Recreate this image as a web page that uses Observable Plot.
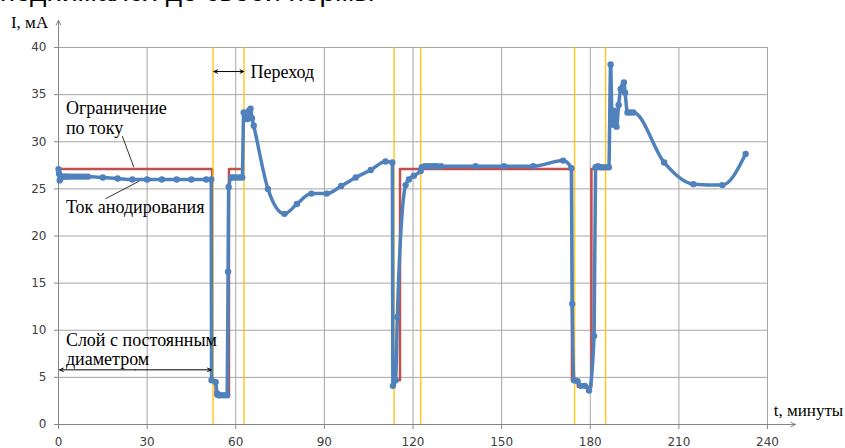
<!DOCTYPE html>
<html><head><meta charset="utf-8">
<script src="https://cdn.jsdelivr.net/npm/d3@7"></script>
<script src="https://cdn.jsdelivr.net/npm/@observablehq/plot@0.6"></script>
<style>
body{margin:0;background:#fff;}
#title{height:14px;overflow:hidden;position:relative;width:845px;}
#title span{position:absolute;left:0px;top:-22px;font-family:"Liberation Sans",Arial,sans-serif;font-size:28px;line-height:28px;white-space:nowrap;color:#000;}
</style></head><body>
<div id="title"><span>поднимался до своей нормы</span></div>
<div id="chart"></div>
<script>
const xTicks = [0, 30, 60, 90, 120, 150, 180, 210, 240];
const yTicks = [0, 5, 10, 15, 20, 25, 30, 35, 40];

// Ток анодирования (blue)
const blueT = [0, 0.2, 0.4, 0.7, 1, 1.5, 2, 2.5, 3, 3.5, 4, 5, 6, 7, 8, 9, 10, 15, 20, 25, 30, 35, 40, 45, 50, 51.7,
  51.8, 53.2, 53.7, 54.2, 54.9, 56, 57.1, 57.4, 57.6, 58.5, 59.3, 60.2, 61.2, 62.2,
  62.7, 63.3, 63.9, 64.5, 65.0, 65.5, 66.1, 70.9, 76.5, 80.7, 85.6, 90.8, 95.7, 100.6, 105.7, 110.7, 113.0,
  113.2, 114.1, 114.7, 117.5, 118.6, 120.3, 122.6, 123.0, 124, 125, 126, 127, 128, 129.5, 141.2, 150.8, 160.7,
  170.8, 173.6, 173.9, 174.5, 175.7, 176.8, 178.2, 179.6, 181.3, 181.8, 182.6, 183.8, 185.0, 186.3,
  186.9, 187.3, 187.6, 188.0, 188.5, 188.9, 189.6, 190.3, 191.4, 191.8, 192.6, 193.6, 194.6, 205.0, 214.9, 224.7, 232.6];
const blueI = [27.1, 26.6, 25.9, 26.1, 26.3, 26.3, 26.3, 26.3, 26.3, 26.3, 26.3, 26.3, 26.3, 26.3, 26.3, 26.3, 26.3, 26.2, 26.1, 26.0, 26.0, 26.0, 26.0, 26.0, 26.0, 26.0,
  4.7, 4.5, 3.3, 3.1, 3.1, 3.1, 3.1, 16.2, 25.2, 26.2, 26.2, 26.2, 26.2, 26.2,
  33.1, 32.6, 32.4, 33.3, 33.5, 32.5, 31.7, 25.0, 22.35, 23.4, 24.5, 24.5, 25.3, 26.2, 27.0, 27.9, 27.8,
  4.1, 4.7, 11.4, 25.4, 26.0, 26.4, 26.9, 27.3, 27.4, 27.4, 27.4, 27.4, 27.4, 27.4, 27.4, 27.4, 27.4,
  28.0, 27.2, 12.8, 4.7, 4.6, 4.1, 4.1, 3.6, 9.4, 27.3, 27.4, 27.3, 27.3, 27.3,
  38.2, 33.0, 31.8, 33.3, 32.2, 31.6, 33.9, 35.6, 36.3, 35.2, 33.1, 33.1, 33.1, 27.8, 25.5, 25.4, 28.7];

// Ограничение по току (red)
const redT = [0, 52.0, 52.0, 53.2, 53.2, 57.7, 57.7, 61.4,
  113.1, 115.6, 115.6, 173.8, 173.8, 175.8, 175.8, 180.4, 180.4, 185.8];
const redI = [27.1, 27.1, 4.7, 4.7, 3.0, 3.0, 27.1, 27.1,
  4.7, 4.7, 27.1, 27.1, 4.7, 4.7, 4.0, 4.0, 27.1, 27.1];
const redSeg = [1, 1, 1, 1, 1, 1, 1, 1, 2, 2, 2, 2, 2, 2, 2, 2, 2, 2];

// Переход boundaries (yellow)
const yellowT = [52.3, 62.8, 113.6, 122.6, 174.7, 185.2];

// annotations
const noteText = ["Переход", "Ограничение", "по току", "Ток анодирования", "Слой с постоянным", "диаметром"];
const noteX = [65.0, 2.5, 2.5, 2.5, 2.5, 2.5];
const noteY = [37.4, 33.6, 31.4, 23.0, 8.9, 6.9];

const yAxisTitle = "I, мА", xAxisTitle = "t, минуты";

const leaderX1 = [21.6, 15.9], leaderY1 = [30.6, 23.95], leaderX2 = [25.5, 27.2], leaderY2 = [27.3, 25.8];

// double arrows: start, end, level
const spanStart = [52.6, 0.4], spanEnd = [62.7, 51.7], spanY = [37.45, 5.8];

const blue = blueT.map((t, i) => ({t, v: blueI[i]}));
const red = redT.map((t, i) => ({t, v: redI[i], s: redSeg[i]}));
const notes = noteText.map((s, i) => ({s, x: noteX[i], y: noteY[i]}));
const leaders = leaderX1.map((x1, i) => ({x1, y1: leaderY1[i], x2: leaderX2[i], y2: leaderY2[i]}));
const halves = [];
spanStart.forEach((s, i) => {
  const m = (s + spanEnd[i]) / 2;
  halves.push({x1: m, x2: s, y: spanY[i]}, {x1: m, x2: spanEnd[i], y: spanY[i]});
});
const axisArrows = [{x1: 0, y1: 0, x2: 249.5, y2: 0}, {x1: 0, y1: 0, x2: 0, y2: 42.9}];

const grid = "#a6a6a6";
const serif = "Liberation Serif";

const chart = Plot.plot({
  width: 845, height: 434,
  marginTop: 33, marginBottom: 24, marginLeft: 58, marginRight: 78,
  style: {fontFamily: "DejaVu Sans", fontSize: "12px", color: "#404040", background: "#fff", overflow: "visible"},
  x: {domain: [0, 240]},
  y: {domain: [0, 40]},
  marks: [
    Plot.ruleY(yTicks.filter(v => v > 0), {stroke: grid, strokeWidth: 1}),
    Plot.ruleX(xTicks.filter(v => v > 0), {stroke: grid, strokeWidth: 1}),
    Plot.axisX(xTicks, {tickSize: 5, tickPadding: 8, stroke: "#868686", fill: "#404040", label: null}),
    Plot.axisY(yTicks, {tickSize: 4, tickPadding: 8, stroke: "#868686", fill: "#404040", label: null}),
    Plot.arrow(axisArrows, {x1: "x1", y1: "y1", x2: "x2", y2: "y2", stroke: "#868686", strokeWidth: 1, headLength: 8, headAngle: 50}),
    Plot.line(red, {x: "t", y: "v", z: "s", stroke: "#C0504D", strokeWidth: 2.5}),
    Plot.ruleX(yellowT, {stroke: "#FFC000", strokeWidth: 1.5, strokeOpacity: 0.85}),
    Plot.line(blue, {x: "t", y: "v", stroke: "#4F81BD", strokeWidth: 3.5, curve: "monotone-x", strokeLinejoin: "round"}),
    Plot.dot(blue, {x: "t", y: "v", r: 3.2, fill: "#4F81BD", stroke: "none"}),
    Plot.link(leaders, {x1: "x1", y1: "y1", x2: "x2", y2: "y2", stroke: "#000", strokeWidth: 0.8}),
    Plot.arrow(halves, {x1: "x1", y1: "y", x2: "x2", y2: "y", stroke: "#000", strokeWidth: 1, headLength: 6, headAngle: 50}),
    Plot.text(notes, {x: "x", y: "y", text: "s", textAnchor: "start", fontFamily: serif, fontSize: 18, fill: "#000"}),
    Plot.text([yAxisTitle], {x: -3.5, y: 42.7, text: d => d, textAnchor: "end", fontFamily: serif, fontSize: 17, fill: "#000"}),
    Plot.text([xAxisTitle], {x: 242.1, y: 1.5, text: d => d, textAnchor: "start", fontFamily: serif, fontSize: 17, fill: "#000"})
  ]
});
document.getElementById("chart").appendChild(chart);
</script>
</body></html>
